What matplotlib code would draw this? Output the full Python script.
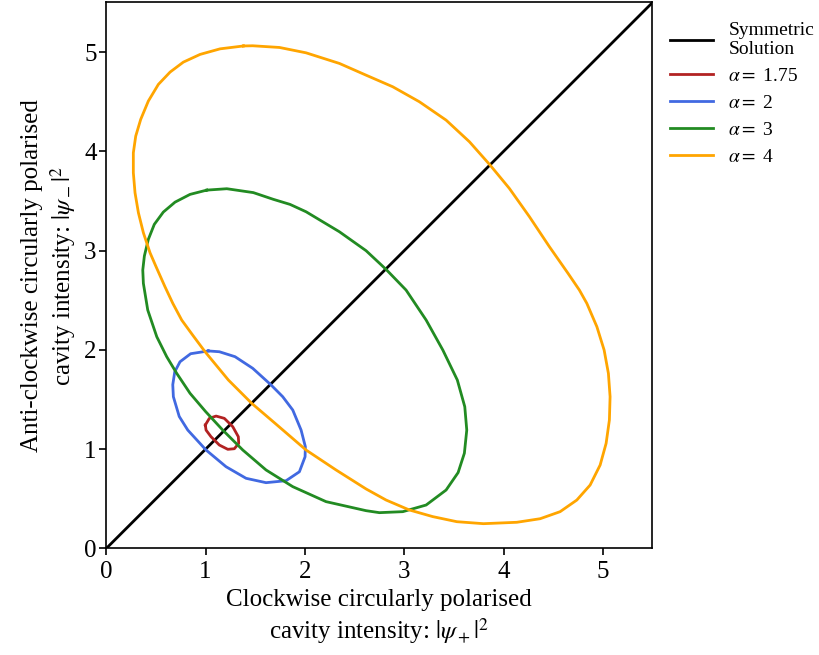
import numpy as np
import matplotlib
matplotlib.use("Agg")
import matplotlib.pyplot as plt

plt.rcParams['font.family'] = ['Liberation Serif', 'DejaVu Serif']
plt.rcParams['mathtext.fontset'] = 'stix'

# points (|psi_+|^2, |psi_-|^2), going round clockwise
a175_x = [0.998, 1.038, 1.106, 1.189, 1.274, 1.330, 1.334, 1.290, 1.224, 1.139, 1.055, 1.005]
a175_y = [1.244, 1.311, 1.334, 1.311, 1.227, 1.126, 1.059, 1.005, 0.999, 1.042, 1.126, 1.193]

a2_x = [1.028, 1.139, 1.297, 1.475, 1.660, 1.777, 1.878, 1.962, 2.005, 2.002, 1.945,
        1.811, 1.609, 1.408, 1.206, 1.005, 0.821, 0.735, 0.676, 0.670, 0.690, 0.743, 0.850]
a2_y = [1.990, 1.982, 1.932, 1.815, 1.647, 1.529, 1.395, 1.193, 1.025, 0.924, 0.773,
        0.683, 0.663, 0.707, 0.824, 0.992, 1.193, 1.330, 1.529, 1.650, 1.780, 1.881, 1.962]

a3_x = [1.012, 1.214, 1.481, 1.683, 1.851, 2.012, 2.347, 2.616, 2.818, 3.019, 3.221,
        3.389, 3.535, 3.610, 3.630, 3.606, 3.543, 3.422, 3.221, 2.986, 2.750, 2.616,
        2.213, 1.878, 1.609, 1.375, 1.173, 1.000, 0.844, 0.710, 0.609, 0.509, 0.418,
        0.374, 0.368, 0.384, 0.424, 0.484, 0.575, 0.693, 0.844]
a3_y = [3.610, 3.624, 3.585, 3.517, 3.466, 3.392, 3.191, 3.000, 2.811, 2.603, 2.301,
        1.999, 1.697, 1.428, 1.193, 0.960, 0.765, 0.589, 0.438, 0.371, 0.361, 0.381,
        0.472, 0.623, 0.791, 0.992, 1.193, 1.380, 1.563, 1.764, 1.932, 2.133, 2.402,
        2.671, 2.805, 2.946, 3.114, 3.265, 3.389, 3.489, 3.567]

a4_x = [1.381, 1.475, 1.744, 2.012, 2.348, 2.616, 2.885, 3.153, 3.422, 3.657, 3.865,
        4.059, 4.261, 4.462, 4.650, 4.764, 4.839, 4.940, 5.013, 5.056, 5.073, 5.066,
        5.033, 4.973, 4.872, 4.738, 4.570, 4.369, 4.134, 3.798, 3.530, 3.288, 3.052,
        2.818, 2.616, 2.314, 2.012, 1.700, 1.465, 1.230, 0.995, 0.870, 0.760, 0.670,
        0.590, 0.502, 0.441, 0.374, 0.324, 0.290, 0.273, 0.273, 0.297, 0.347, 0.424,
        0.525, 0.643, 0.776, 0.945, 1.146]
a4_y = [5.062, 5.064, 5.047, 4.993, 4.886, 4.768, 4.651, 4.500, 4.315, 4.097, 3.862,
        3.627, 3.342, 3.040, 2.771, 2.603, 2.469, 2.234, 1.999, 1.764, 1.529, 1.294,
        1.059, 0.841, 0.639, 0.488, 0.371, 0.300, 0.264, 0.250, 0.270, 0.321, 0.388,
        0.488, 0.600, 0.791, 0.992, 1.261, 1.462, 1.697, 1.982, 2.150, 2.301, 2.470,
        2.640, 2.838, 2.979, 3.181, 3.382, 3.583, 3.785, 3.986, 4.154, 4.322, 4.507,
        4.675, 4.799, 4.899, 4.977, 5.033]

sym = [0, 5.5]

curves = [(a175_x, a175_y, 'firebrick', r'$\alpha=$ 1.75'),
          (a2_x, a2_y, 'royalblue', r'$\alpha=$ 2'),
          (a3_x, a3_y, 'forestgreen', r'$\alpha=$ 3'),
          (a4_x, a4_y, 'orange', r'$\alpha=$ 4')]

fig = plt.figure(figsize=(8.19, 6.55), dpi=100)
ax = fig.add_axes([0.1297, 0.1626, 0.667, 0.8336])

ax.plot(sym, sym, color='black', lw=2, label='Symmetric\nSolution')
for xs, ys, c, lab in curves:
    # close the loop
    ax.plot(xs + xs[:1], ys + ys[:1], color=c, lw=2, label=lab,
            solid_joinstyle='round')

ax.set_xlim(0, 5.5)
ax.set_ylim(0, 5.5)
ax.set_xticks([0, 1, 2, 3, 4, 5])
ax.set_yticks([0, 1, 2, 3, 4, 5])
ax.tick_params(labelsize=18, width=1.2, length=5)
ax.tick_params(axis='x', pad=4)
ax.tick_params(axis='y', pad=2)
for s in ax.spines.values():
    s.set_linewidth(1.2)

ax.set_xlabel('Clockwise circularly polarised\ncavity intensity: $|\\psi_+|^2$', fontsize=18,
              linespacing=1.25)
ax.set_ylabel('Anti-clockwise circularly polarised\ncavity intensity: $|\\psi_-|^2$', fontsize=18,
              linespacing=1.25)

ax.legend(loc='upper left', bbox_to_anchor=(1.0, 0.997), frameon=False, fontsize=14,
          handlelength=2.2, labelspacing=0.48)

fig.savefig('out.png', dpi=100)
